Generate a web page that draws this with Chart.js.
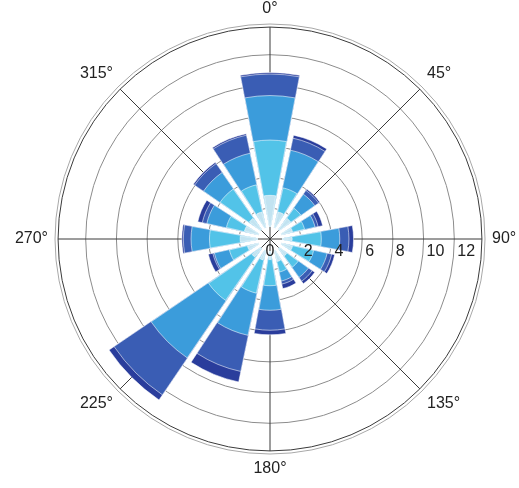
<!DOCTYPE html>
<html>
<head>
<meta charset="utf-8">
<script src="https://cdn.jsdelivr.net/npm/chart.js@4.4.1/dist/chart.umd.min.js"></script>
<style>
  html, body { margin: 0; padding: 0; background: #fff; }
  #wrap { width: 519px; height: 488px; }
</style>
</head>
<body>
<div id="wrap"><canvas id="rose"></canvas></div>
<script>
// 16 wind directions, clockwise starting at north
const directions = ['N','NNE','NE','ENE','E','ESE','SE','SSE','S','SSW','SW','WSW','W','WNW','NW','NNW'];

// frequency per speed bin (innermost bin first)
const bin1 = [1.8, 0.8, 0.7, 0.5, 0.4, 0.5, 0.4, 0.5, 0.3, 0.4, 0.5, 0.5, 0.9, 0.7, 0.7, 0.8];
const bin2 = [3.6, 1.6, 0.8, 0.8, 1.9, 1.4, 0.9, 0.7, 1.7, 2.2, 3.4, 1.2, 2.0, 1.2, 2.3, 1.8];
const bin3 = [2.9, 2.5, 1.1, 0.7, 1.2, 0.9, 0.8, 0.6, 1.6, 2.8, 4.5, 1.0, 1.2, 1.3, 1.3, 2.1];
const bin4 = [1.4, 0.8, 0.3, 0.2, 0.6, 0.3, 0.3, 0.2, 1.3, 2.4, 2.9, 0.1, 0.5, 0.3, 0.7, 1.2];
const bin5 = [0.1, 0.2, 0.1, 0.3, 0.3, 0.2, 0.2, 0.3, 0.3, 0.7, 0.4, 0.3, 0.1, 0.3, 0.1, 0.1];

const binColors = ['#c2e3f1', '#52c3e8', '#3b9cdb', '#3a5db4', '#2a3d9c'];

const radialTicks = [0, 2, 4, 6, 8, 10, 12];
const angleTicks = [0, 45, 90, 135, 180, 225, 270, 315];

// overlaid polar areas: each one is the running total up to that bin
const bins = [bin1, bin2, bin3, bin4, bin5];
const running = new Array(directions.length).fill(0);
const datasets = bins.map(function (bin, b) {
  for (let i = 0; i < bin.length; i++) running[i] += bin[i];
  return {
    label: 'bin ' + (b + 1),
    data: running.map(v => +v.toFixed(2)),
    backgroundColor: binColors[b],
    borderColor: 'rgba(255,255,255,0.55)',
    borderWidth: 1,
    offset: 32
  };
});

const deg = Math.PI / 180;

function spokes(ctx, r, len) {
  ctx.strokeStyle = '#3a3a3a';
  ctx.lineWidth = 1;
  angleTicks.forEach(function (a) {
    ctx.beginPath();
    ctx.moveTo(r.xCenter, r.yCenter);
    ctx.lineTo(r.xCenter + len * Math.sin(a * deg), r.yCenter - len * Math.cos(a * deg));
    ctx.stroke();
  });
}

const roseFrame = {
  id: 'roseFrame',
  beforeDatasetsDraw(chart) {
    const r = chart.scales.r;
    const ctx = chart.ctx;
    const rim = r.getDistanceFromCenterForValue(13.8);
    ctx.save();
    spokes(ctx, r, rim);
    ctx.beginPath();
    ctx.arc(r.xCenter, r.yCenter, rim, 0, 2 * Math.PI);
    ctx.stroke();
    ctx.restore();
  },
  afterDatasetsDraw(chart) {
    const r = chart.scales.r;
    const ctx = chart.ctx;
    ctx.save();
    // open hub in the middle, spokes showing through
    ctx.fillStyle = '#fff';
    ctx.beginPath();
    ctx.arc(r.xCenter, r.yCenter, 12, 0, 2 * Math.PI);
    ctx.fill();
    spokes(ctx, r, 12);

    ctx.fillStyle = '#222';
    ctx.font = '16px "Liberation Sans", Arial, sans-serif';
    // speed ticks along the 90 degree line
    ctx.textBaseline = 'top';
    radialTicks.forEach(function (t) {
      const d = r.getDistanceFromCenterForValue(t);
      ctx.textAlign = t === 0 ? 'center' : 'left';
      ctx.fillText(String(t), r.xCenter + d + (t === 0 ? 0 : 3), r.yCenter + 5);
    });
    // compass degrees round the rim
    const lr = 222;
    angleTicks.forEach(function (a) {
      const s = Math.sin(a * deg), c = Math.cos(a * deg);
      ctx.textAlign = s > 0.1 ? 'left' : (s < -0.1 ? 'right' : 'center');
      ctx.textBaseline = c > 0.1 ? 'bottom' : (c < -0.1 ? 'top' : 'middle');
      ctx.fillText(a + '°', r.xCenter + lr * s, r.yCenter - lr * c);
    });
    ctx.restore();
  }
};

new Chart(document.getElementById('rose'), {
  type: 'polarArea',
  data: { labels: directions, datasets: datasets },
  options: {
    responsive: true,
    maintainAspectRatio: false,
    animation: false,
    layout: { padding: { left: 55, right: 34, top: 24, bottom: 34 } },
    plugins: { legend: { display: false }, tooltip: { enabled: false } },
    scales: {
      r: {
        min: 0,
        max: 14,
        startAngle: -11.25,
        ticks: { display: false, stepSize: 2 },
        pointLabels: { display: false },
        angleLines: { display: false },
        grid: {
          circular: true,
          lineWidth: 1,
          color: ctx => ctx.tick && ctx.tick.value === 14 ? '#a8a8a8' : '#8c8c8c'
        }
      }
    }
  },
  plugins: [roseFrame]
});
</script>
</body>
</html>
